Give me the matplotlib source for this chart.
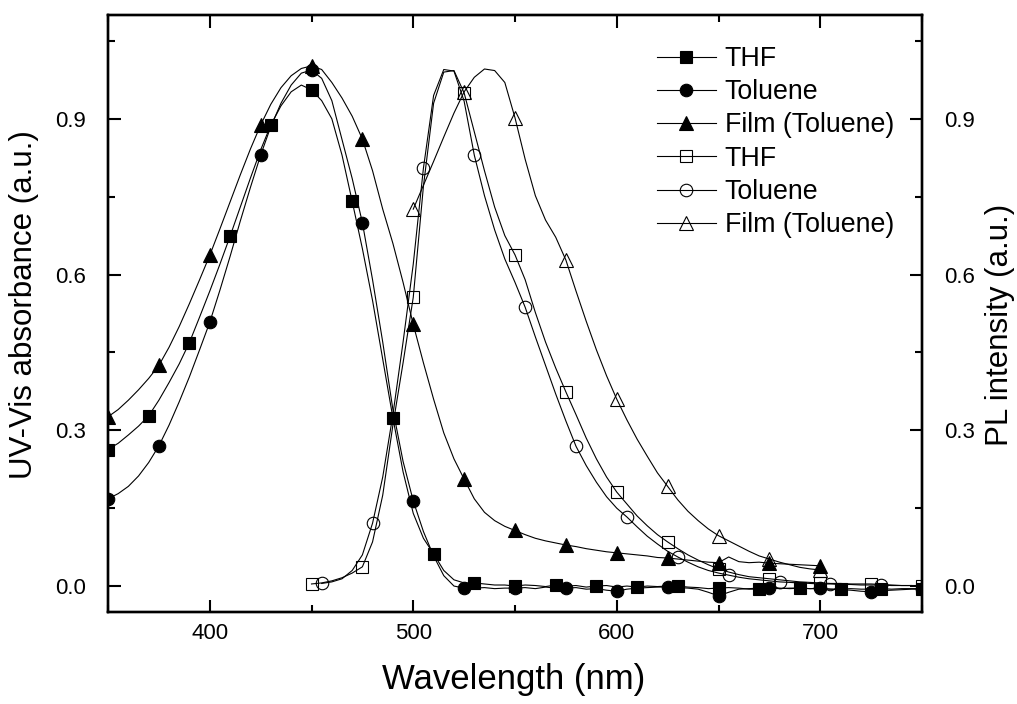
import numpy as np
import matplotlib
matplotlib.use("Agg")
import matplotlib.pyplot as plt
from matplotlib.ticker import MultipleLocator

plt.rcParams['font.family'] = ['Liberation Sans', 'DejaVu Sans']

# ---------------- data ----------------
# UV-Vis absorbance, 350-750 nm every 5 nm
wl_abs = list(range(350, 755, 5))
abs_thf = [0.263, 0.275, 0.291, 0.308, 0.328, 0.358, 0.392, 0.428, 0.469, 0.518,
           0.568, 0.620, 0.674, 0.730, 0.786, 0.840, 0.888, 0.925, 0.952, 0.965,
           0.956, 0.935, 0.900, 0.830, 0.741, 0.650, 0.550, 0.437, 0.324, 0.220,
           0.140, 0.092, 0.062, 0.030, 0.012, 0.006, 0.006, 0.004, 0.002, 0.002,
           0.000, 0.002, 0.001, -0.001, 0.002, 0.000, 0.001, -0.002, 0.000, 0.001,
           -0.002, 0.000, -0.002, 0.000, -0.001, 0.000, 0.000, -0.002, -0.003, -0.005,
           -0.004, -0.003, -0.004, -0.006, -0.006, -0.004, -0.004, -0.005, -0.004, -0.005,
           -0.005, -0.006, -0.006, -0.005, -0.006, -0.006, -0.005, -0.006, -0.005, -0.005,
           -0.005]
abs_tol = [0.168, 0.178, 0.192, 0.212, 0.238, 0.270, 0.310, 0.355, 0.403, 0.455,
           0.508, 0.570, 0.635, 0.703, 0.768, 0.830, 0.885, 0.930, 0.965, 0.988,
           0.994, 0.978, 0.935, 0.860, 0.785, 0.700, 0.590, 0.470, 0.340, 0.240,
           0.164, 0.105, 0.058, 0.020, 0.000, -0.004, -0.004, -0.003, -0.005, -0.004,
           -0.004, -0.003, -0.005, -0.002, -0.004, -0.004, -0.003, -0.006, -0.005, -0.008,
           -0.010, -0.006, -0.004, -0.003, -0.002, -0.002, -0.003, -0.004, -0.006, -0.012,
           -0.019, -0.012, -0.006, -0.005, -0.004, -0.004, -0.005, -0.004, -0.004, -0.005,
           -0.004, -0.006, -0.007, -0.008, -0.010, -0.011, -0.009, -0.008, -0.007, -0.006,
           -0.006]
# film absorbance, 350-700 nm every 5 nm
wl_abs_film = list(range(350, 705, 5))
abs_film = [0.326, 0.340, 0.358, 0.378, 0.400, 0.425, 0.460, 0.500, 0.544, 0.590,
            0.637, 0.688, 0.740, 0.792, 0.842, 0.888, 0.928, 0.960, 0.983, 0.997,
            1.002, 0.995, 0.970, 0.940, 0.905, 0.861, 0.800, 0.726, 0.660, 0.585,
            0.504, 0.430, 0.360, 0.295, 0.245, 0.206, 0.168, 0.142, 0.126, 0.115,
            0.107, 0.099, 0.092, 0.087, 0.083, 0.079, 0.076, 0.072, 0.069, 0.066,
            0.064, 0.062, 0.060, 0.058, 0.055, 0.054, 0.052, 0.050, 0.048, 0.046,
            0.045, 0.056, 0.047, 0.045, 0.046, 0.044, 0.043, 0.042, 0.041, 0.040,
            0.039]

# PL intensity
wl_pl_thf = list(range(450, 755, 5))
pl_thf = [0.004, 0.006, 0.010, 0.016, 0.025, 0.037, 0.085, 0.175, 0.310, 0.430,
          0.556, 0.770, 0.930, 0.990, 0.993, 0.950, 0.875, 0.800, 0.730, 0.675,
          0.638, 0.590, 0.527, 0.470, 0.420, 0.374, 0.330, 0.285, 0.245, 0.210,
          0.181, 0.158, 0.135, 0.116, 0.099, 0.085, 0.072, 0.060, 0.050, 0.041,
          0.033, 0.027, 0.022, 0.018, 0.016, 0.014, 0.012, 0.010, 0.008, 0.007,
          0.006, 0.005, 0.005, 0.004, 0.004, 0.004, 0.003, 0.002, 0.001, 0.001,
          0.000]
wl_pl_tol = list(range(455, 755, 5))
pl_tol = [0.005, 0.008, 0.014, 0.030, 0.060, 0.121, 0.210, 0.330, 0.470, 0.620,
          0.805, 0.945, 0.995, 0.992, 0.934, 0.830, 0.752, 0.686, 0.630, 0.585,
          0.537, 0.480, 0.425, 0.370, 0.318, 0.269, 0.232, 0.200, 0.172, 0.150,
          0.133, 0.114, 0.096, 0.081, 0.067, 0.056, 0.046, 0.037, 0.030, 0.025,
          0.021, 0.017, 0.014, 0.012, 0.010, 0.008, 0.007, 0.006, 0.005, 0.004,
          0.004, 0.003, 0.003, 0.002, 0.002, 0.002, 0.001, 0.001, 0.001, 0.000]
wl_pl_film = list(range(500, 705, 5))
pl_film = [0.726, 0.772, 0.818, 0.865, 0.911, 0.952, 0.980, 0.996, 0.993, 0.970,
           0.902, 0.822, 0.752, 0.705, 0.672, 0.628, 0.568, 0.510, 0.455, 0.405,
           0.360, 0.320, 0.283, 0.250, 0.218, 0.192, 0.166, 0.144, 0.126, 0.110,
           0.097, 0.087, 0.077, 0.067, 0.058, 0.052, 0.046, 0.041, 0.036, 0.033,
           0.031]

labels = ["THF", "Toluene", "Film (Toluene)"]
x_ticks = [400, 500, 600, 700]
y_ticks = [0.0, 0.3, 0.6, 0.9]

# ---------------- figure ----------------
W, H = 1017, 704
fig = plt.figure(figsize=(W / 100, H / 100), dpi=100)
ax = fig.add_axes([108 / W, 1 - 612 / H, 814 / W, 597 / H])
ax2 = ax.twinx()

lw = 0.8
ms = 9
common = dict(color='black', lw=lw, markeredgewidth=0.8)

l1, = ax.plot(wl_abs, abs_thf, marker='s', markevery=4, ms=ms, mfc='black', **common)
l2, = ax.plot(wl_abs, abs_tol, marker='o', markevery=5, ms=ms, mfc='black', **common)
l3, = ax.plot(wl_abs_film, abs_film, marker='^', markevery=5, ms=ms + 1, mfc='black', **common)
l4, = ax2.plot(wl_pl_thf, pl_thf, marker='s', markevery=5, ms=ms - 0.5, mfc='none', **common)
l5, = ax2.plot(wl_pl_tol, pl_tol, marker='o', markevery=5, ms=ms, mfc='none', **common)
l6, = ax2.plot(wl_pl_film, pl_film, marker='^', markevery=5, ms=ms + 1, mfc='none', **common)

for a in (ax, ax2):
    a.set_xlim(350, 750)
    a.set_ylim(-0.05, 1.10)
    a.set_yticks(y_ticks)
    a.yaxis.set_minor_locator(MultipleLocator(0.15))
    a.yaxis.set_major_formatter(matplotlib.ticker.FormatStrFormatter('%.1f'))

ax.set_xticks(x_ticks)
ax.xaxis.set_minor_locator(MultipleLocator(50))

for sp in list(ax.spines.values()) + list(ax2.spines.values()):
    sp.set_linewidth(1.7)

ax.tick_params(axis='x', which='both', direction='in', top=True, bottom=True,
               labelsize=16, pad=8, width=1.5)
ax.tick_params(axis='y', which='both', direction='in', left=True, right=False,
               labelsize=16, pad=16, width=1.5)
ax.tick_params(which='major', length=9)
ax.tick_params(which='minor', length=5)
ax2.tick_params(axis='y', which='both', direction='in', right=True, left=False,
                labelsize=16, pad=16, width=1.5)
ax2.tick_params(which='major', length=9)
ax2.tick_params(which='minor', length=5)

fig.text(514 / W, 1 - 663 / H, "Wavelength (nm)", fontsize=25, ha='center', va='top')
fig.text(24 / W, 1 - 305 / H, "UV-Vis absorbance (a.u.)", fontsize=22.5, rotation=90,
         ha='center', va='center')
fig.text(1000 / W, 1 - 325 / H, "PL intensity (a.u.)", fontsize=22.5, rotation=90,
         ha='center', va='center')

handles = [l1, l2, l3, l4, l5, l6]
leg_labels = labels + labels
leg = ax2.legend(handles, leg_labels, loc='upper left',
                 bbox_to_anchor=(657 / W, 1 - 46 / H), bbox_transform=fig.transFigure,
                 frameon=False, fontsize=19.3, handlelength=2.2, handletextpad=0.33,
                 labelspacing=0.27, borderpad=0, borderaxespad=0, markerscale=1.0)

fig.savefig("out.png", dpi=100)
